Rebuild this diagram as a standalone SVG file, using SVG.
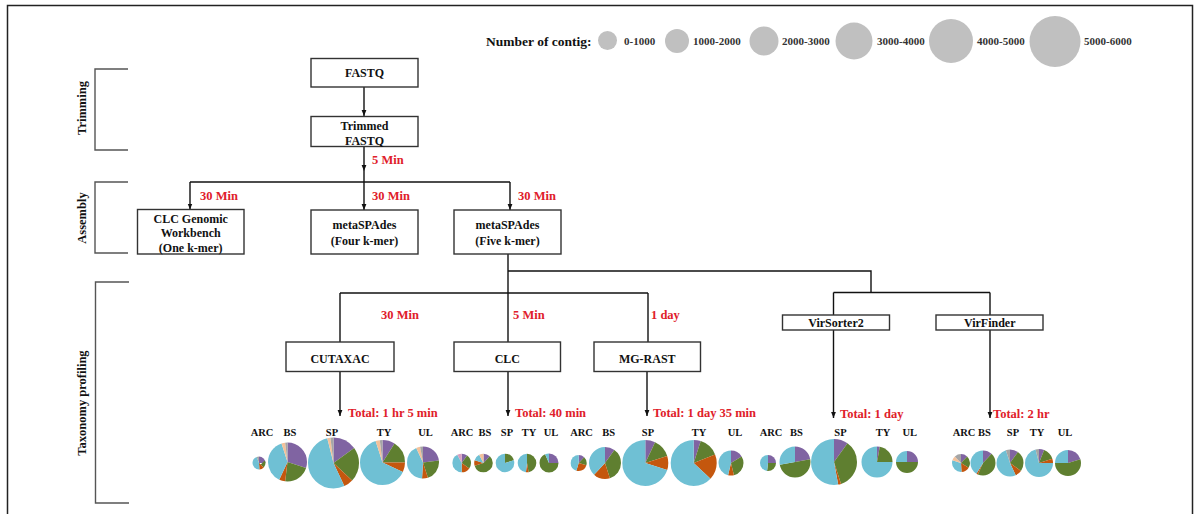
<svg xmlns="http://www.w3.org/2000/svg" width="1197" height="514" viewBox="0 0 1197 514">
<style>
text{font-family:"Liberation Serif","Times New Roman",serif;font-weight:bold;fill:#111}
.bx{fill:#fff;stroke:#333;stroke-width:1.4}
.nt{font-size:12px;text-anchor:middle}
.rd{font-size:12.5px;fill:#e0202a}
.pl{font-size:10.5px;text-anchor:middle}
.lg{font-size:11px;fill:#333}
.side{font-size:12.5px;text-anchor:middle}
.br{fill:none;stroke:#555;stroke-width:1.4}
.cn path{fill:none;stroke:#111;stroke-width:1.4}
.leg{fill:#c0c0c0}
.pie circle{fill:none}
.P{stroke:#8064a2}.G{stroke:#5f7f30}.O{stroke:#c4570e}.B{stroke:#6fc0d4}.K{stroke:#f3c19a}.Y{stroke:#a5a5a5}.N{stroke:#d8a0c0}
</style>
<defs>
<marker id="ah" viewBox="0 0 10 10" refX="10" refY="5" markerWidth="6" markerHeight="6" orient="auto" markerUnits="userSpaceOnUse"><path d="M0,1 L10,5 L0,9z" fill="#111"/></marker>
</defs>
<rect x="7.5" y="5.5" width="1185" height="530" fill="none" stroke="#222" stroke-width="1.5"/>

<g id="legend">
<text x="486" y="46" style="font-size:13.5px">Number of contig:</text>
<circle class="leg" cx="607.5" cy="40.5" r="9.5"/><text class="lg" x="624" y="45">0-1000</text>
<circle class="leg" cx="677" cy="41" r="12"/><text class="lg" x="693" y="45">1000-2000</text>
<circle class="leg" cx="764" cy="41" r="14.5"/><text class="lg" x="782" y="45">2000-3000</text>
<circle class="leg" cx="854" cy="41" r="18.5"/><text class="lg" x="877" y="45">3000-4000</text>
<circle class="leg" cx="951" cy="41" r="22"/><text class="lg" x="977" y="45">4000-5000</text>
<circle class="leg" cx="1055" cy="41.5" r="25.5"/><text class="lg" x="1084" y="45">5000-6000</text>
</g>

<g id="stages">
<path class="br" d="M128,69 H95 V150 H128"/>
<text class="side" transform="translate(85.5,108) rotate(-90)">Trimming</text>
<path class="br" d="M128,182 H95 V253 H128"/>
<text class="side" transform="translate(85.5,218) rotate(-90)">Assembly</text>
<path class="br" d="M129,282 H95.5 V503 H129"/>
<text class="side" transform="translate(85.5,403) rotate(-90)">Taxonomy profiling</text>
</g>

<g id="connectors" class="cn">
<path d="M364,87 V116" marker-end="url(#ah)"/>
<path d="M364,147 V171" marker-end="url(#ah)"/>
<path d="M364,171 V182"/>
<path d="M190,182 H510"/>
<path d="M190,182 V209.5" marker-end="url(#ah)"/>
<path d="M364,182 V210" marker-end="url(#ah)"/>
<path d="M510,182 V210" marker-end="url(#ah)"/>
<path d="M508,254 V342"/>
<path d="M508,271 H871 V292.5"/>
<path d="M340,293 H648"/>
<path d="M340,293 V342"/>
<path d="M648,293 V342"/>
<path d="M833.5,292.5 H990"/>
<path d="M833.5,292.5 V315"/>
<path d="M990,292.5 V315"/>
<path d="M340,371 V416" marker-end="url(#ah)"/>
<path d="M508,372 V416" marker-end="url(#ah)"/>
<path d="M647,372 V416" marker-end="url(#ah)"/>
<path d="M833.5,330 V418" marker-end="url(#ah)"/>
<path d="M990,330 V418" marker-end="url(#ah)"/>
</g>

<g id="n-fastq"><rect class="bx" x="311" y="58.5" width="107" height="28.5"/><text class="nt" x="364.5" y="77">FASTQ</text></g>
<g id="n-trimmed"><rect class="bx" x="311" y="116.5" width="107" height="30"/><text class="nt" x="364.5" y="129.5">Trimmed</text><text class="nt" x="364.5" y="144.5">FASTQ</text></g>
<g id="n-clcgw"><rect class="bx" x="137.5" y="209.5" width="106.5" height="44.5"/><text class="nt" x="190.7" y="222.5">CLC Genomic</text><text class="nt" x="190.7" y="237">Workbench</text><text class="nt" x="190.7" y="251.5">(One k-mer)</text></g>
<g id="n-spades4"><rect class="bx" x="311" y="210" width="107" height="44"/><text class="nt" x="364.5" y="229">metaSPAdes</text><text class="nt" x="364.5" y="245">(Four k-mer)</text></g>
<g id="n-spades5"><rect class="bx" x="454" y="210" width="107" height="44"/><text class="nt" x="507.5" y="229">metaSPAdes</text><text class="nt" x="507.5" y="245">(Five k-mer)</text></g>
<g id="n-cutaxac"><rect class="bx" x="286" y="342" width="108" height="29.5"/><text class="nt" x="340" y="362.5">CUTAXAC</text></g>
<g id="n-clc"><rect class="bx" x="454" y="342" width="106.5" height="29.5"/><text class="nt" x="507.3" y="362.5">CLC</text></g>
<g id="n-mgrast"><rect class="bx" x="594" y="342" width="106.5" height="29.5"/><text class="nt" x="647.3" y="362.5">MG-RAST</text></g>
<g id="n-virsorter"><rect class="bx" x="782.5" y="315" width="107" height="15"/><text class="nt" x="836" y="327">VirSorter2</text></g>
<g id="n-virfinder"><rect class="bx" x="936" y="315" width="107" height="15"/><text class="nt" x="989.7" y="327">VirFinder</text></g>

<g id="times">
<text class="rd" x="372" y="163.5">5 Min</text>
<text class="rd" x="200" y="199.5">30 Min</text>
<text class="rd" x="372" y="199.5">30 Min</text>
<text class="rd" x="518" y="199.5">30 Min</text>
<text class="rd" x="381" y="318.5">30 Min</text>
<text class="rd" x="513" y="318.5">5 Min</text>
<text class="rd" x="651" y="318.5">1 day</text>
<text class="rd" x="348" y="417">Total: 1 hr 5 min</text>
<text class="rd" x="515" y="417">Total: 40 min</text>
<text class="rd" x="653" y="417">Total: 1 day 35 min</text>
<text class="rd" x="840" y="418">Total: 1 day</text>
<text class="rd" x="993" y="418">Total: 2 hr</text>
</g>

<g id="pie-labels">
<text class="pl" x="262" y="435.5">ARC</text><text class="pl" x="290" y="435.5">BS</text><text class="pl" x="332" y="435.5">SP</text><text class="pl" x="384" y="435.5">TY</text><text class="pl" x="425.5" y="435.5">UL</text>
<text class="pl" x="462" y="435.5">ARC</text><text class="pl" x="485" y="435.5">BS</text><text class="pl" x="507" y="435.5">SP</text><text class="pl" x="529" y="435.5">TY</text><text class="pl" x="551" y="435.5">UL</text>
<text class="pl" x="581.5" y="435.5">ARC</text><text class="pl" x="608.7" y="435.5">BS</text><text class="pl" x="648" y="435.5">SP</text><text class="pl" x="699" y="435.5">TY</text><text class="pl" x="735" y="435.5">UL</text>
<text class="pl" x="771" y="435.5">ARC</text><text class="pl" x="796.3" y="435.5">BS</text><text class="pl" x="840.5" y="435.5">SP</text><text class="pl" x="883" y="435.5">TY</text><text class="pl" x="909.7" y="435.5">UL</text>
<text class="pl" x="964" y="435.5">ARC</text><text class="pl" x="984.5" y="435.5">BS</text><text class="pl" x="1013" y="435.5">SP</text><text class="pl" x="1037" y="435.5">TY</text><text class="pl" x="1065" y="435.5">UL</text>
</g>

<g id="pies" class="pie">
<!-- CUTAXAC -->
<g transform="translate(259,463) rotate(-90)" stroke-width="6.5">
<circle r="3.25" pathLength="100" class="P" stroke-dasharray="25 100" stroke-dashoffset="0"/>
<circle r="3.25" pathLength="100" class="G" stroke-dasharray="12 100" stroke-dashoffset="-25"/>
<circle r="3.25" pathLength="100" class="O" stroke-dasharray="12 100" stroke-dashoffset="-37"/>
<circle r="3.25" pathLength="100" class="B" stroke-dasharray="45 100" stroke-dashoffset="-49"/>
<circle r="3.25" pathLength="100" class="Y" stroke-dasharray="6 100" stroke-dashoffset="-94"/>
</g>
<g transform="translate(287.5,462) rotate(-90)" stroke-width="19.5">
<circle r="9.75" pathLength="100" class="P" stroke-dasharray="30 100" stroke-dashoffset="0"/>
<circle r="9.75" pathLength="100" class="G" stroke-dasharray="22 100" stroke-dashoffset="-30"/>
<circle r="9.75" pathLength="100" class="O" stroke-dasharray="5 100" stroke-dashoffset="-52"/>
<circle r="9.75" pathLength="100" class="B" stroke-dasharray="38 100" stroke-dashoffset="-57"/>
<circle r="9.75" pathLength="100" class="K" stroke-dasharray="3 100" stroke-dashoffset="-95"/>
<circle r="9.75" pathLength="100" class="Y" stroke-dasharray="2 100" stroke-dashoffset="-98"/>
</g>
<g transform="translate(333.5,463) rotate(-90)" stroke-width="25.5">
<circle r="12.75" pathLength="100" class="P" stroke-dasharray="15 100" stroke-dashoffset="0"/>
<circle r="12.75" pathLength="100" class="G" stroke-dasharray="22 100" stroke-dashoffset="-15"/>
<circle r="12.75" pathLength="100" class="O" stroke-dasharray="6 100" stroke-dashoffset="-37"/>
<circle r="12.75" pathLength="100" class="B" stroke-dasharray="53 100" stroke-dashoffset="-43"/>
<circle r="12.75" pathLength="100" class="K" stroke-dasharray="2 100" stroke-dashoffset="-96"/>
<circle r="12.75" pathLength="100" class="Y" stroke-dasharray="2 100" stroke-dashoffset="-98"/>
</g>
<g transform="translate(382.5,462.5) rotate(-90)" stroke-width="22.5">
<circle r="11.25" pathLength="100" class="P" stroke-dasharray="9 100" stroke-dashoffset="0"/>
<circle r="11.25" pathLength="100" class="G" stroke-dasharray="16 100" stroke-dashoffset="-9"/>
<circle r="11.25" pathLength="100" class="O" stroke-dasharray="7 100" stroke-dashoffset="-25"/>
<circle r="11.25" pathLength="100" class="B" stroke-dasharray="63 100" stroke-dashoffset="-32"/>
<circle r="11.25" pathLength="100" class="K" stroke-dasharray="3 100" stroke-dashoffset="-95"/>
<circle r="11.25" pathLength="100" class="Y" stroke-dasharray="2 100" stroke-dashoffset="-98"/>
</g>
<g transform="translate(423,462.5) rotate(-90)" stroke-width="16">
<circle r="8" pathLength="100" class="P" stroke-dasharray="23 100" stroke-dashoffset="0"/>
<circle r="8" pathLength="100" class="G" stroke-dasharray="22 100" stroke-dashoffset="-23"/>
<circle r="8" pathLength="100" class="O" stroke-dasharray="6 100" stroke-dashoffset="-45"/>
<circle r="8" pathLength="100" class="B" stroke-dasharray="42 100" stroke-dashoffset="-51"/>
<circle r="8" pathLength="100" class="K" stroke-dasharray="4 100" stroke-dashoffset="-93"/>
<circle r="8" pathLength="100" class="Y" stroke-dasharray="3 100" stroke-dashoffset="-97"/>
</g>
<!-- CLC -->
<g transform="translate(461.7,463) rotate(-90)" stroke-width="9.3">
<circle r="4.65" pathLength="100" class="P" stroke-dasharray="10 100" stroke-dashoffset="0"/>
<circle r="4.65" pathLength="100" class="G" stroke-dasharray="25 100" stroke-dashoffset="-10"/>
<circle r="4.65" pathLength="100" class="O" stroke-dasharray="15 100" stroke-dashoffset="-35"/>
<circle r="4.65" pathLength="100" class="B" stroke-dasharray="42 100" stroke-dashoffset="-50"/>
<circle r="4.65" pathLength="100" class="N" stroke-dasharray="8 100" stroke-dashoffset="-92"/>
</g>
<g transform="translate(483.5,463) rotate(-90)" stroke-width="9.3">
<circle r="4.65" pathLength="100" class="P" stroke-dasharray="12 100" stroke-dashoffset="0"/>
<circle r="4.65" pathLength="100" class="G" stroke-dasharray="58 100" stroke-dashoffset="-12"/>
<circle r="4.65" pathLength="100" class="O" stroke-dasharray="10 100" stroke-dashoffset="-70"/>
<circle r="4.65" pathLength="100" class="B" stroke-dasharray="12 100" stroke-dashoffset="-80"/>
<circle r="4.65" pathLength="100" class="K" stroke-dasharray="8 100" stroke-dashoffset="-92"/>
</g>
<g transform="translate(505,463) rotate(-90)" stroke-width="9.3">
<circle r="4.65" pathLength="100" class="G" stroke-dasharray="20 100" stroke-dashoffset="0"/>
<circle r="4.65" pathLength="100" class="B" stroke-dasharray="80 100" stroke-dashoffset="-20"/>
</g>
<g transform="translate(527,463) rotate(-90)" stroke-width="9.3">
<circle r="4.65" pathLength="100" class="G" stroke-dasharray="47 100" stroke-dashoffset="0"/>
<circle r="4.65" pathLength="100" class="O" stroke-dasharray="5 100" stroke-dashoffset="-47"/>
<circle r="4.65" pathLength="100" class="B" stroke-dasharray="48 100" stroke-dashoffset="-52"/>
</g>
<g transform="translate(549,463) rotate(-90)" stroke-width="9.5">
<circle r="4.75" pathLength="100" class="P" stroke-dasharray="25 100" stroke-dashoffset="0"/>
<circle r="4.75" pathLength="100" class="G" stroke-dasharray="68 100" stroke-dashoffset="-25"/>
<circle r="4.75" pathLength="100" class="B" stroke-dasharray="7 100" stroke-dashoffset="-93"/>
</g>
<!-- MG-RAST -->
<g transform="translate(578.7,463) rotate(-90)" stroke-width="8">
<circle r="4" pathLength="100" class="P" stroke-dasharray="12 100" stroke-dashoffset="0"/>
<circle r="4" pathLength="100" class="G" stroke-dasharray="18 100" stroke-dashoffset="-12"/>
<circle r="4" pathLength="100" class="O" stroke-dasharray="25 100" stroke-dashoffset="-30"/>
<circle r="4" pathLength="100" class="B" stroke-dasharray="45 100" stroke-dashoffset="-55"/>
</g>
<g transform="translate(605,463) rotate(-90)" stroke-width="16">
<circle r="8" pathLength="100" class="P" stroke-dasharray="10 100" stroke-dashoffset="0"/>
<circle r="8" pathLength="100" class="G" stroke-dasharray="35 100" stroke-dashoffset="-10"/>
<circle r="8" pathLength="100" class="O" stroke-dasharray="17 100" stroke-dashoffset="-45"/>
<circle r="8" pathLength="100" class="B" stroke-dasharray="38 100" stroke-dashoffset="-62"/>
</g>
<g transform="translate(645.3,463) rotate(-90)" stroke-width="23">
<circle r="11.5" pathLength="100" class="P" stroke-dasharray="7 100" stroke-dashoffset="0"/>
<circle r="11.5" pathLength="100" class="G" stroke-dasharray="13 100" stroke-dashoffset="-7"/>
<circle r="11.5" pathLength="100" class="O" stroke-dasharray="10 100" stroke-dashoffset="-20"/>
<circle r="11.5" pathLength="100" class="B" stroke-dasharray="70 100" stroke-dashoffset="-30"/>
</g>
<g transform="translate(693.7,463) rotate(-90)" stroke-width="23">
<circle r="11.5" pathLength="100" class="P" stroke-dasharray="5 100" stroke-dashoffset="0"/>
<circle r="11.5" pathLength="100" class="G" stroke-dasharray="14 100" stroke-dashoffset="-5"/>
<circle r="11.5" pathLength="100" class="O" stroke-dasharray="18 100" stroke-dashoffset="-19"/>
<circle r="11.5" pathLength="100" class="B" stroke-dasharray="63 100" stroke-dashoffset="-37"/>
</g>
<g transform="translate(731,463) rotate(-90)" stroke-width="12.5">
<circle r="6.25" pathLength="100" class="P" stroke-dasharray="16 100" stroke-dashoffset="0"/>
<circle r="6.25" pathLength="100" class="G" stroke-dasharray="30 100" stroke-dashoffset="-16"/>
<circle r="6.25" pathLength="100" class="O" stroke-dasharray="8 100" stroke-dashoffset="-46"/>
<circle r="6.25" pathLength="100" class="B" stroke-dasharray="46 100" stroke-dashoffset="-54"/>
</g>
<!-- VirSorter2 -->
<g transform="translate(768,463) rotate(-90)" stroke-width="8">
<circle r="4" pathLength="100" class="P" stroke-dasharray="25 100" stroke-dashoffset="0"/>
<circle r="4" pathLength="100" class="G" stroke-dasharray="27 100" stroke-dashoffset="-25"/>
<circle r="4" pathLength="100" class="B" stroke-dasharray="48 100" stroke-dashoffset="-52"/>
</g>
<g transform="translate(795,462) rotate(-90)" stroke-width="15.5">
<circle r="7.75" pathLength="100" class="P" stroke-dasharray="22 100" stroke-dashoffset="0"/>
<circle r="7.75" pathLength="100" class="G" stroke-dasharray="50 100" stroke-dashoffset="-22"/>
<circle r="7.75" pathLength="100" class="B" stroke-dasharray="28 100" stroke-dashoffset="-72"/>
</g>
<g transform="translate(834,462) rotate(-90)" stroke-width="23">
<circle r="11.5" pathLength="100" class="P" stroke-dasharray="10 100" stroke-dashoffset="0"/>
<circle r="11.5" pathLength="100" class="G" stroke-dasharray="35 100" stroke-dashoffset="-10"/>
<circle r="11.5" pathLength="100" class="O" stroke-dasharray="2 100" stroke-dashoffset="-45"/>
<circle r="11.5" pathLength="100" class="B" stroke-dasharray="53 100" stroke-dashoffset="-47"/>
</g>
<g transform="translate(877,462) rotate(-90)" stroke-width="15.5">
<circle r="7.75" pathLength="100" class="P" stroke-dasharray="3 100" stroke-dashoffset="0"/>
<circle r="7.75" pathLength="100" class="G" stroke-dasharray="22 100" stroke-dashoffset="-3"/>
<circle r="7.75" pathLength="100" class="B" stroke-dasharray="75 100" stroke-dashoffset="-25"/>
</g>
<g transform="translate(907,462) rotate(-90)" stroke-width="11">
<circle r="5.5" pathLength="100" class="P" stroke-dasharray="25 100" stroke-dashoffset="0"/>
<circle r="5.5" pathLength="100" class="G" stroke-dasharray="50 100" stroke-dashoffset="-25"/>
<circle r="5.5" pathLength="100" class="B" stroke-dasharray="25 100" stroke-dashoffset="-75"/>
</g>
<!-- VirFinder -->
<g transform="translate(961,463) rotate(-90)" stroke-width="9">
<circle r="4.5" pathLength="100" class="P" stroke-dasharray="12 100" stroke-dashoffset="0"/>
<circle r="4.5" pathLength="100" class="G" stroke-dasharray="22 100" stroke-dashoffset="-12"/>
<circle r="4.5" pathLength="100" class="O" stroke-dasharray="15 100" stroke-dashoffset="-34"/>
<circle r="4.5" pathLength="100" class="B" stroke-dasharray="31 100" stroke-dashoffset="-49"/>
<circle r="4.5" pathLength="100" class="K" stroke-dasharray="8 100" stroke-dashoffset="-80"/>
<circle r="4.5" pathLength="100" class="Y" stroke-dasharray="12 100" stroke-dashoffset="-88"/>
</g>
<g transform="translate(983,463) rotate(-90)" stroke-width="12.5">
<circle r="6.25" pathLength="100" class="P" stroke-dasharray="12 100" stroke-dashoffset="0"/>
<circle r="6.25" pathLength="100" class="G" stroke-dasharray="45 100" stroke-dashoffset="-12"/>
<circle r="6.25" pathLength="100" class="O" stroke-dasharray="2 100" stroke-dashoffset="-57"/>
<circle r="6.25" pathLength="100" class="B" stroke-dasharray="41 100" stroke-dashoffset="-59"/>
</g>
<g transform="translate(1010,463) rotate(-90)" stroke-width="13.5">
<circle r="6.75" pathLength="100" class="P" stroke-dasharray="10 100" stroke-dashoffset="0"/>
<circle r="6.75" pathLength="100" class="G" stroke-dasharray="25 100" stroke-dashoffset="-10"/>
<circle r="6.75" pathLength="100" class="O" stroke-dasharray="8 100" stroke-dashoffset="-35"/>
<circle r="6.75" pathLength="100" class="B" stroke-dasharray="52 100" stroke-dashoffset="-43"/>
<circle r="6.75" pathLength="100" class="Y" stroke-dasharray="5 100" stroke-dashoffset="-95"/>
</g>
<g transform="translate(1039,463) rotate(-90)" stroke-width="14">
<circle r="7" pathLength="100" class="P" stroke-dasharray="6 100" stroke-dashoffset="0"/>
<circle r="7" pathLength="100" class="G" stroke-dasharray="14 100" stroke-dashoffset="-6"/>
<circle r="7" pathLength="100" class="O" stroke-dasharray="5 100" stroke-dashoffset="-20"/>
<circle r="7" pathLength="100" class="B" stroke-dasharray="71 100" stroke-dashoffset="-25"/>
<circle r="7" pathLength="100" class="Y" stroke-dasharray="4 100" stroke-dashoffset="-96"/>
</g>
<g transform="translate(1068,463) rotate(-90)" stroke-width="13">
<circle r="6.5" pathLength="100" class="P" stroke-dasharray="20 100" stroke-dashoffset="0"/>
<circle r="6.5" pathLength="100" class="G" stroke-dasharray="55 100" stroke-dashoffset="-20"/>
<circle r="6.5" pathLength="100" class="B" stroke-dasharray="25 100" stroke-dashoffset="-75"/>
</g>
</g>
</svg>
